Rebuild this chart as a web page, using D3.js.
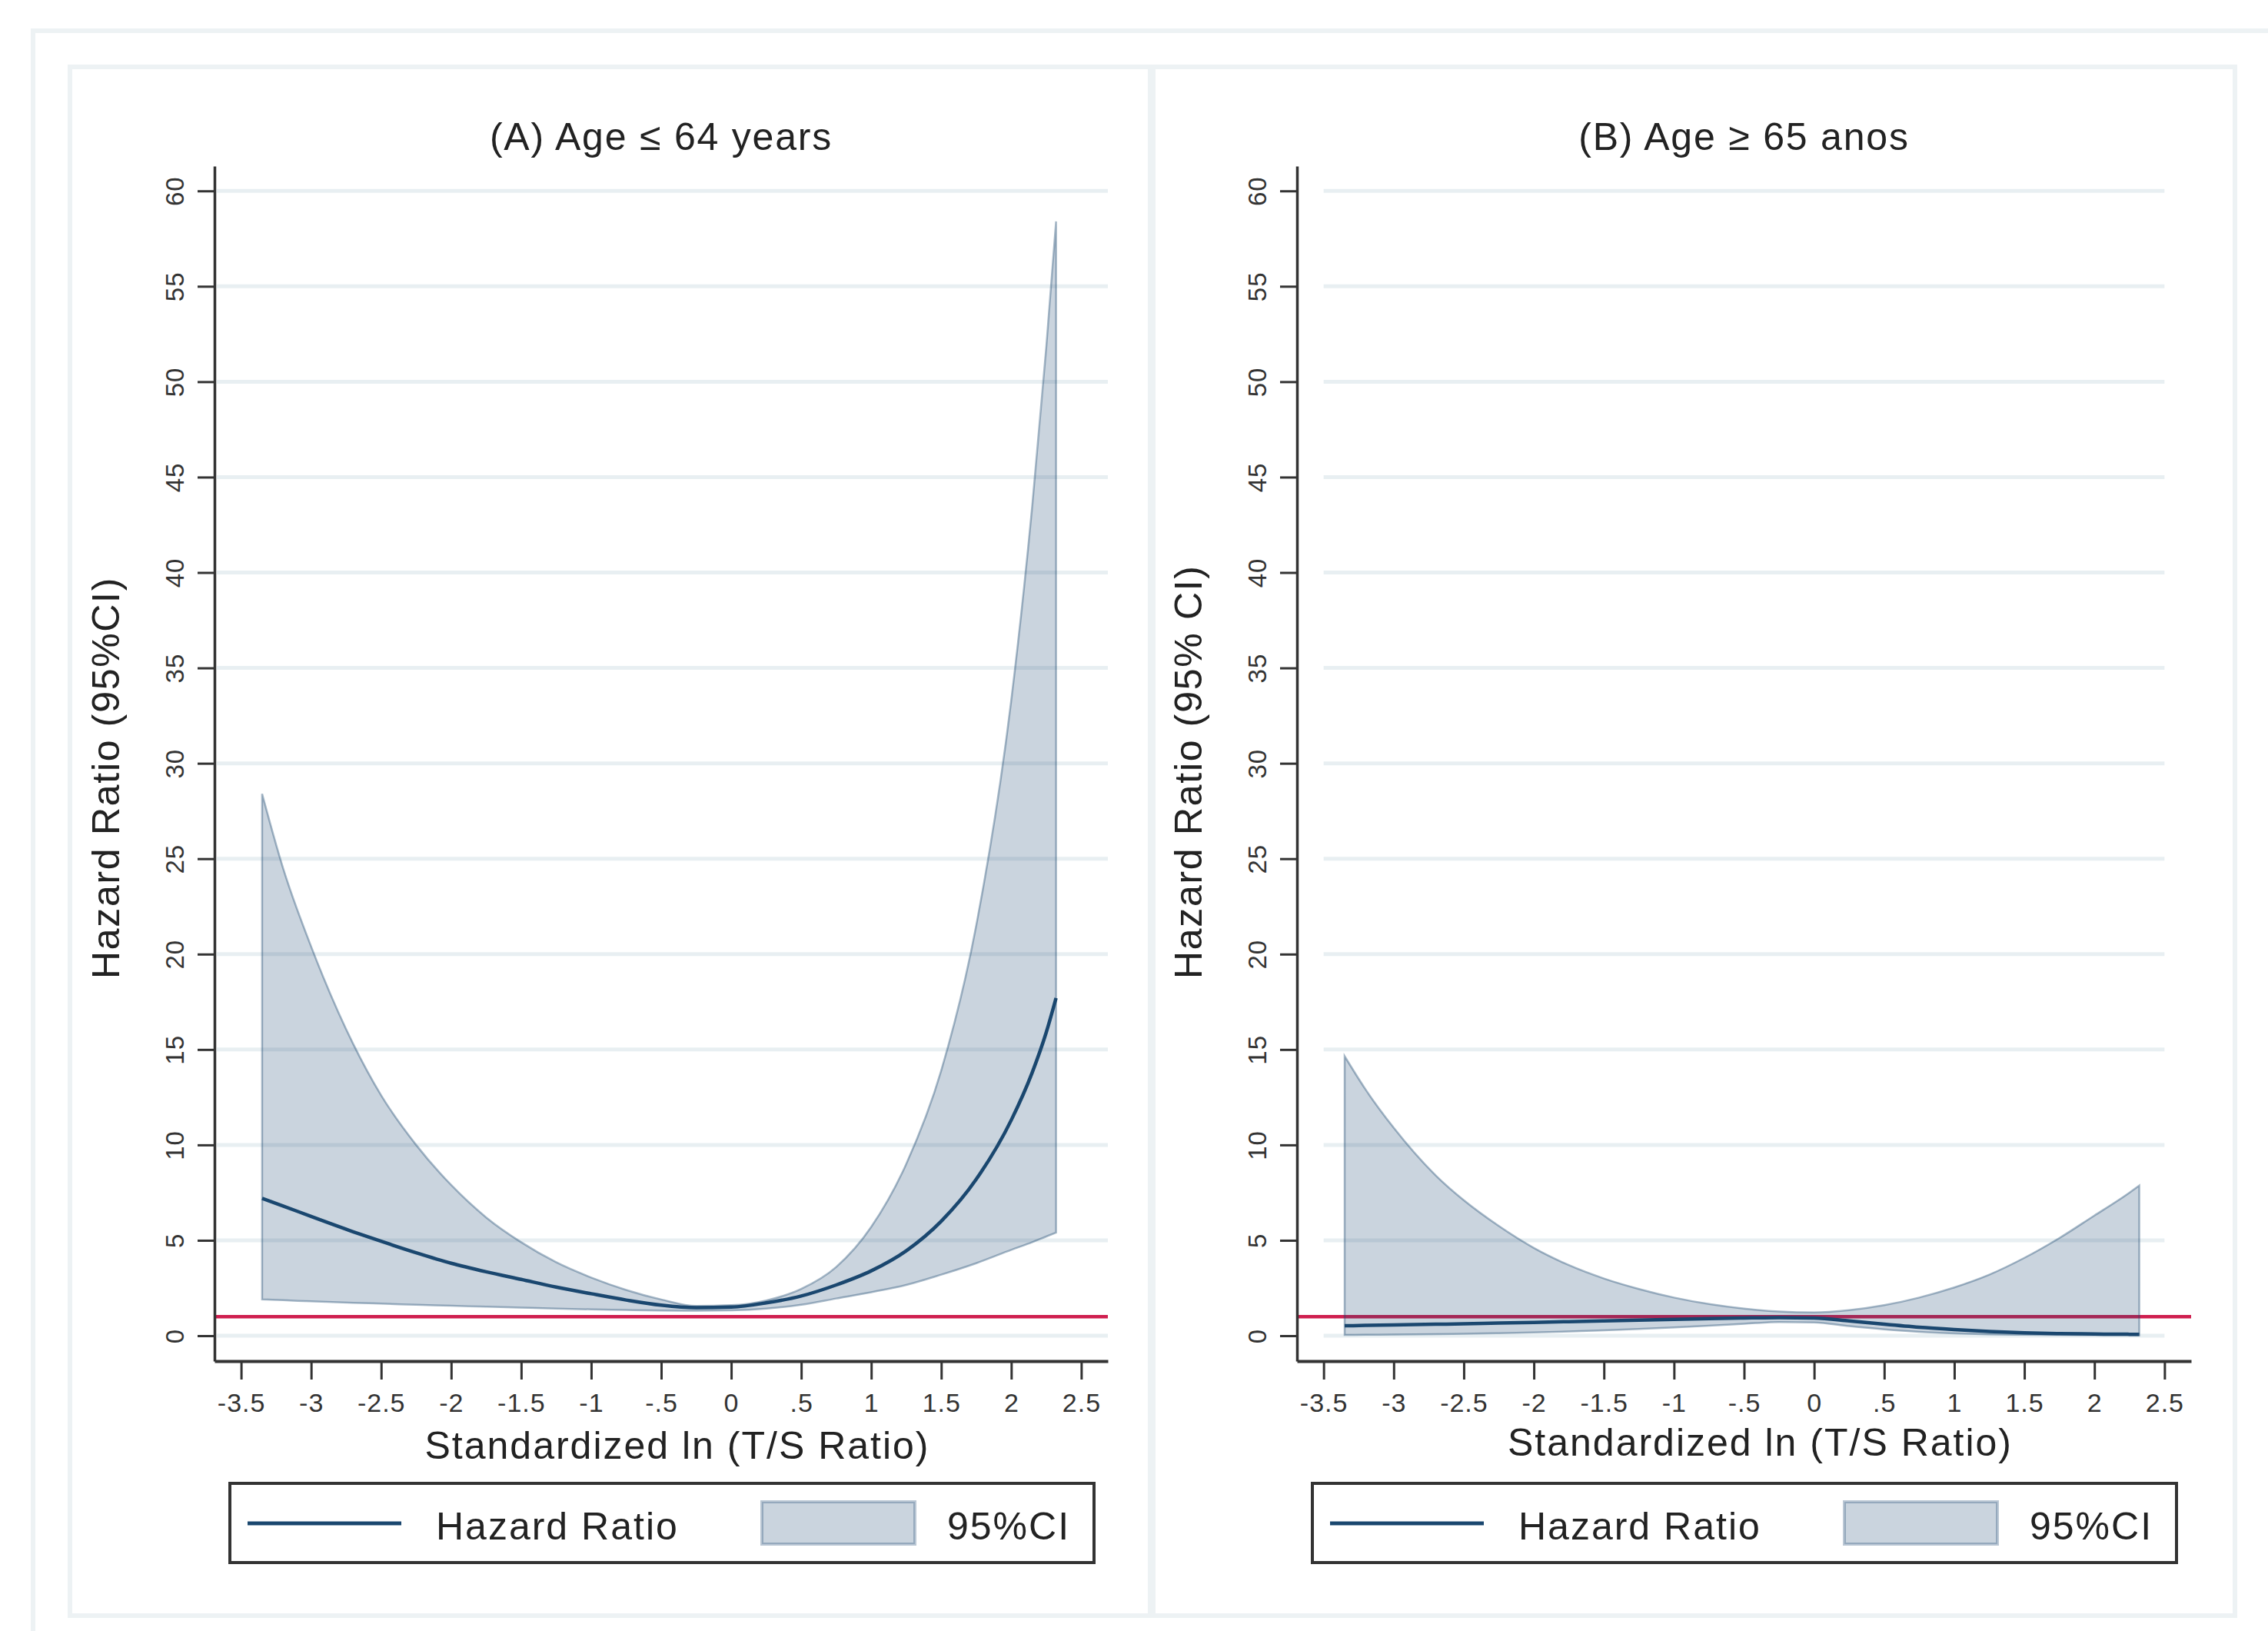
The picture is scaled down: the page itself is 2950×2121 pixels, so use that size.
<!DOCTYPE html>
<html>
<head>
<meta charset="utf-8">
<script src="https://cdn.jsdelivr.net/npm/d3@7/dist/d3.min.js"></script>
<style>
  html, body { margin: 0; padding: 0; background: #ffffff; }
  svg { display: block; }
  text { font-family: "Liberation Sans", Arial, Helvetica, sans-serif; }
</style>
</head>
<body>
<svg id="chart" width="2950" height="2121"></svg>
<script>
// ---------------- DATA ----------------
const panelTitles = ["(A) Age \u2264 64 years", "(B) Age \u2265 65 anos"];
const yTitles = ["Hazard Ratio (95%CI)", "Hazard Ratio (95% CI)"];
const xTitle = "Standardized ln (T/S Ratio)";
const legendLabels = ["Hazard Ratio", "95%CI"];

const xTicks = [-3.5, -3, -2.5, -2, -1.5, -1, -0.5, 0, 0.5, 1, 1.5, 2, 2.5];
const xTickLabels = ["-3.5", "-3", "-2.5", "-2", "-1.5", "-1", "-.5", "0", ".5", "1", "1.5", "2", "2.5"];
const yTicks = [0, 5, 10, 15, 20, 25, 30, 35, 40, 45, 50, 55, 60];
const refLine = 1;

// standardized ln(T/S ratio) evaluation points
const xs = [-3.35, -3.2, -3.0, -2.7, -2.5, -2.25, -2.0, -1.75, -1.5, -1.25, -1.0, -0.75, -0.5, -0.25,
            0, 0.25, 0.5, 0.75, 1.0, 1.25, 1.5, 1.75, 2.0, 2.15, 2.25, 2.32];

// Panel A: Age <= 64
const hrA = [7.2, 6.8, 6.25, 5.45, 4.95, 4.35, 3.8, 3.35, 2.95, 2.55, 2.2, 1.87, 1.6, 1.47,
             1.5, 1.72, 2.08, 2.66, 3.4, 4.45, 6.0, 8.2, 11.3, 13.8, 15.9, 17.7];
const hiA = [28.4, 24.5, 20.4, 15.3, 12.6, 10.0, 7.9, 6.2, 4.9, 3.85, 3.05, 2.4, 1.9, 1.56,
             1.6, 1.85, 2.45, 3.6, 5.7, 9.0, 13.9, 21.5, 33.3, 43.5, 51.8, 58.4];
const loA = [1.9, 1.86, 1.8, 1.72, 1.68, 1.62, 1.57, 1.52, 1.47, 1.42, 1.38, 1.35, 1.32, 1.31,
             1.33, 1.42, 1.62, 1.95, 2.28, 2.66, 3.2, 3.8, 4.5, 4.9, 5.2, 5.4];

// Panel B: Age >= 65
const hrB = [0.52, 0.54, 0.56, 0.6, 0.62, 0.66, 0.70, 0.74, 0.78, 0.82, 0.86, 0.9, 0.93, 0.95,
             0.93, 0.78, 0.6, 0.44, 0.32, 0.22, 0.15, 0.11, 0.09, 0.08, 0.075, 0.07];
const hiB = [14.65, 12.9, 10.9, 8.4, 7.1, 5.75, 4.6, 3.7, 3.0, 2.45, 2.0, 1.66, 1.42, 1.27,
             1.22, 1.34, 1.6, 2.0, 2.53, 3.2, 4.08, 5.12, 6.3, 7.0, 7.5, 7.87];
const loB = [0.04, 0.05, 0.06, 0.08, 0.1, 0.13, 0.17, 0.22, 0.28, 0.35, 0.43, 0.52, 0.62, 0.72,
             0.7, 0.5, 0.33, 0.2, 0.12, 0.07, 0.05, 0.04, 0.03, 0.028, 0.026, 0.025];

const xDomain = [-3.69, 2.69];
const yDomain = [-1.33, 61.3];

// ---------------- LAYOUT / STYLE ----------------
const NAVY = "#1a476f";
const RED = "#cf1f4f";
const GRID = "#e8eff2";
const FRAME = "#edf2f4";
const AXIS = "#333333";
const TEXT = "#222222";

const layout = [
  { left: 279, width: 1162, box: [91, 87, 1405, 2014], hr: hrA, lo: loA, hi: hiA, gridFull: true, xTitleY: 1897 },
  { left: 1687, width: 1163, box: [1500, 87, 1407, 2014], hr: hrB, lo: loB, hi: hiB, gridFull: false, xTitleY: 1893 }
];
const plotTop = 216, plotBottom = 1770;

const svg = d3.select("#chart");

// outer frame
svg.append("rect").attr("x", 43).attr("y", 40).attr("width", 2950).attr("height", 2150)
  .attr("fill", "#ffffff").attr("stroke", FRAME).attr("stroke-width", 6);

layout.forEach((p, i) => {
  const g = svg.append("g");
  // panel frame
  g.append("rect").attr("x", p.box[0]).attr("y", p.box[1]).attr("width", p.box[2]).attr("height", p.box[3])
    .attr("fill", "#ffffff").attr("stroke", FRAME).attr("stroke-width", 6);

  const x = d3.scaleLinear().domain(xDomain).range([p.left, p.left + p.width]);
  const y = d3.scaleLinear().domain(yDomain).range([plotBottom, plotTop]);

  // gridlines
  const gx0 = p.gridFull ? p.left + 3 : x(xTicks[0]);
  const gx1 = p.gridFull ? p.left + p.width : x(xTicks[xTicks.length - 1]);
  g.append("g").selectAll("line").data(yTicks).join("line")
    .attr("x1", gx0).attr("x2", gx1)
    .attr("y1", d => y(d)).attr("y2", d => y(d))
    .attr("stroke", GRID).attr("stroke-width", 5);

  // reference line HR = 1
  g.append("line")
    .attr("x1", p.left).attr("x2", p.left + p.width)
    .attr("y1", y(refLine)).attr("y2", y(refLine))
    .attr("stroke", RED).attr("stroke-width", 4.5);

  const rows = xs.map((xv, k) => ({ x: xv, hr: p.hr[k], lo: p.lo[k], hi: p.hi[k] }));

  // CI band
  const area = d3.area().x(d => x(d.x)).y0(d => y(d.lo)).y1(d => y(d.hi)).curve(d3.curveMonotoneX);
  g.append("path").datum(rows).attr("d", area)
    .attr("fill", NAVY).attr("fill-opacity", 0.23)
    .attr("stroke", NAVY).attr("stroke-opacity", 0.38).attr("stroke-width", 2.5);

  // HR line
  const line = d3.line().x(d => x(d.x)).y(d => y(d.hr)).curve(d3.curveMonotoneX);
  g.append("path").datum(rows).attr("d", line)
    .attr("fill", "none").attr("stroke", NAVY).attr("stroke-width", 4.5);

  // y axis
  const gy = g.append("g").attr("transform", `translate(${p.left},0)`)
    .call(d3.axisLeft(y).tickValues(yTicks).tickSize(22).tickSizeOuter(0));
  gy.select(".domain").attr("stroke", AXIS).attr("stroke-width", 3.5);
  gy.selectAll(".tick line").attr("stroke", AXIS).attr("stroke-width", 3);
  gy.selectAll(".tick text")
    .attr("x", 0).attr("dy", null).attr("text-anchor", "middle")
    .attr("transform", "translate(-40,0) rotate(-90)")
    .attr("font-size", 33).attr("fill", "#333").attr("letter-spacing", 1)
    .style("font-family", '"Liberation Sans", Arial, sans-serif');

  // x axis
  const gxA = g.append("g").attr("transform", `translate(0,${plotBottom})`)
    .call(d3.axisBottom(x).tickValues(xTicks).tickFormat((d, k) => xTickLabels[k])
      .tickSize(24).tickSizeOuter(0).tickPadding(18));
  gxA.select(".domain").attr("stroke", AXIS).attr("stroke-width", 4);
  gxA.selectAll(".tick line").attr("stroke", AXIS).attr("stroke-width", 3);
  gxA.selectAll(".tick text")
    .attr("font-size", 34).attr("fill", "#333").attr("letter-spacing", 1)
    .style("font-family", '"Liberation Sans", Arial, sans-serif');

  const mid = p.left + p.width / 2;

  // panel title
  g.append("text").attr("x", mid).attr("y", 195).attr("text-anchor", "middle")
    .attr("font-size", 50).attr("letter-spacing", 1.8).attr("fill", TEXT).text(panelTitles[i]);

  // x title
  g.append("text").attr("x", mid + 21).attr("y", p.xTitleY).attr("text-anchor", "middle")
    .attr("font-size", 50).attr("letter-spacing", 2).attr("fill", TEXT).text(xTitle);

  // y title
  g.append("text").attr("transform", `translate(${p.left - 124},1273) rotate(-90)`)
    .attr("text-anchor", "start")
    .attr("font-size", 50).attr("letter-spacing", 1.7).attr("fill", TEXT).text(yTitles[i]);

  // legend
  const lx = p.left + 20, ly = 1929;
  const lg = g.append("g").attr("transform", `translate(${lx},${ly})`);
  lg.append("rect").attr("x", 0).attr("y", 0).attr("width", 1124).attr("height", 103)
    .attr("fill", "#ffffff").attr("stroke", AXIS).attr("stroke-width", 4);
  lg.append("line").attr("x1", 23).attr("x2", 223).attr("y1", 52).attr("y2", 52)
    .attr("stroke", NAVY).attr("stroke-width", 5);
  lg.append("text").attr("x", 268).attr("y", 73).attr("font-size", 50).attr("letter-spacing", 2)
    .attr("fill", TEXT).text(legendLabels[0]);
  lg.append("rect").attr("x", 692).attr("y", 24).attr("width", 199).attr("height", 55)
    .attr("fill", NAVY).attr("fill-opacity", 0.23)
    .attr("stroke", NAVY).attr("stroke-opacity", 0.3).attr("stroke-width", 4);
  lg.append("text").attr("x", 933).attr("y", 73).attr("font-size", 50).attr("letter-spacing", 2)
    .attr("fill", TEXT).text(legendLabels[1]);
});
</script>
</body>
</html>
